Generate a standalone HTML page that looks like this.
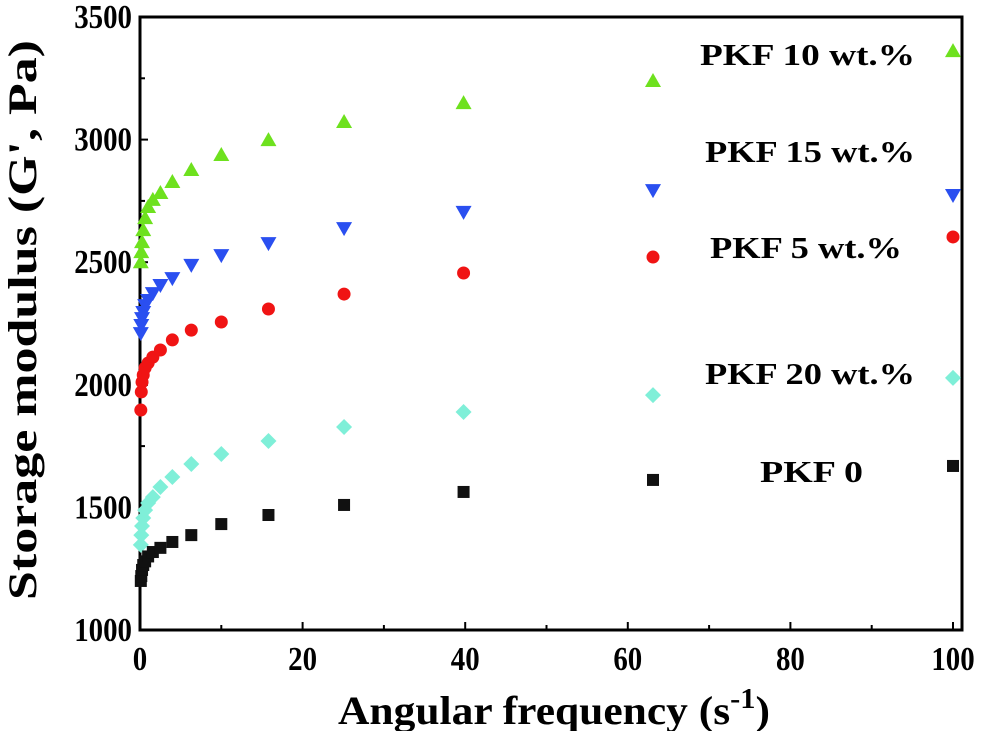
<!DOCTYPE html>
<html><head><meta charset="utf-8"><style>
body{margin:0;background:#fff}
svg text{font-family:"Liberation Serif",serif;font-weight:bold;fill:#000}
</style></head><body>
<svg id="chart" width="981" height="731" xmlns="http://www.w3.org/2000/svg"></svg>
<script>
const freqs=[0.1,0.158,0.251,0.398,0.631,1,1.58,2.51,3.98,6.31,10,15.8,25.1,39.8,63.1,100];
const pkf10=[2500,2541,2582,2631,2680,2725,2754,2782,2827,2876,2937,2998,3072,3149,3239,3361];
const pkf15=[2211,2244,2272,2297,2325,2346,2374,2407,2435,2489,2529,2578,2639,2705,2794,2774];
const pkf5=[1897,1971,2011,2040,2069,2089,2113,2142,2183,2223,2256,2309,2370,2456,2521,2603];
const pkf20=[1347,1387,1424,1457,1489,1518,1542,1583,1624,1677,1718,1771,1828,1889,1958,2028];
const pkf0=[1200,1220,1245,1265,1280,1300,1318,1335,1359,1387,1432,1469,1510,1563,1612,1669];
const xTicks=[0,20,40,60,80,100];
const yTicks=[1000,1500,2000,2500,3000,3500];
const NS="http://www.w3.org/2000/svg",svg=document.getElementById('chart');
const X0=140,X1=953,Y0=630,Y1=17;
const sx=v=>X0+(v/100)*(X1-X0);
const sy=v=>Y0-(v-1000)/2500*(Y0-Y1);
function mk(t,a,p){const e=document.createElementNS(NS,t);for(const k in a)e.setAttribute(k,a[k]);(p||svg).appendChild(e);return e;}
const frame=mk('rect',{x:X0,y:Y1,width:962-X0,height:Y0-Y1,fill:'none',stroke:'#000','stroke-width':3});


for(let v=0;v<=100;v+=10){const x=sx(v);const t=mk('line',{x1:x,x2:x,y1:Y0,y2:Y0-(v%20===0?8:5),stroke:'#000','stroke-width':2});

}
for(let v=1000;v<=3500;v+=250){const y=sy(v);const t=mk('line',{x1:X0,x2:X0+(v%500===0?8:5),y1:y,y2:y,stroke:'#000','stroke-width':2});

}
xTicks.forEach(v=>{const t=mk('text',{x:sx(v),y:670,'text-anchor':'middle','font-size':34,transform:`translate(${sx(v)},670) scale(0.85,1) translate(${-sx(v)},-670)`});t.textContent=v;

});
yTicks.forEach(v=>{const y=sy(v)+11;const t=mk('text',{x:132,y:y,'text-anchor':'end','font-size':34,transform:`translate(132,${y}) scale(0.85,1) translate(-132,${-y})`});t.textContent=v;

});
const xt=mk('text',{x:338,y:724,'font-size':40,textLength:432,lengthAdjust:'spacingAndGlyphs'});
xt.innerHTML='Angular frequency (s<tspan dy="-16" font-size="28">-1</tspan><tspan dy="16">)</tspan>';


const yt=mk('text',{x:0,y:0,'font-size':40,textLength:560,lengthAdjust:'spacingAndGlyphs',transform:'translate(36,600) rotate(-90)'});
yt.textContent="Storage modulus (G', Pa)";


function marker(shape,x,y,c,g){
 let e;
 if(shape==='up')e=mk('polygon',{points:`${x},${y-8} ${x-8},${y+6} ${x+8},${y+6}`,fill:c},g);
 else if(shape==='down')e=mk('polygon',{points:`${x},${y+8} ${x-8},${y-6} ${x+8},${y-6}`,fill:c},g);
 else if(shape==='circle')e=mk('circle',{cx:x,cy:y,r:6.5,fill:c},g);
 else if(shape==='diamond')e=mk('polygon',{points:`${x},${y-8} ${x+8},${y} ${x},${y+8} ${x-8},${y}`,fill:c},g);
 else e=mk('rect',{x:x-6,y:y-6,width:12,height:12,fill:c},g);
 return e;
}
const series=[[pkf10,'up','#6ee11e','pkf-10'],[pkf15,'down','#2a4ff0','pkf-15'],[pkf5,'circle','#f01414','pkf-5'],[pkf20,'diamond','#7fefd8','pkf-20'],[pkf0,'square','#111','pkf-0']];
series.forEach(([vals,sh,c,n])=>{const g=mk('g',{});


vals.forEach((v,i)=>{const m=marker(sh,sx(freqs[i]),sy(v),c,g);

});});
const legends=[['PKF 10 wt.%',700,65,215],['PKF 15 wt.%',705,162,210],['PKF 5 wt.%',710,258,192],['PKF 20 wt.%',705,384,210],['PKF 0',760,482,103]];
legends.forEach(([t,x,y,w])=>{const e=mk('text',{x:x,y:y,'font-size':31,textLength:w,lengthAdjust:'spacingAndGlyphs'});e.textContent=t;

});
</script>
</body></html>
